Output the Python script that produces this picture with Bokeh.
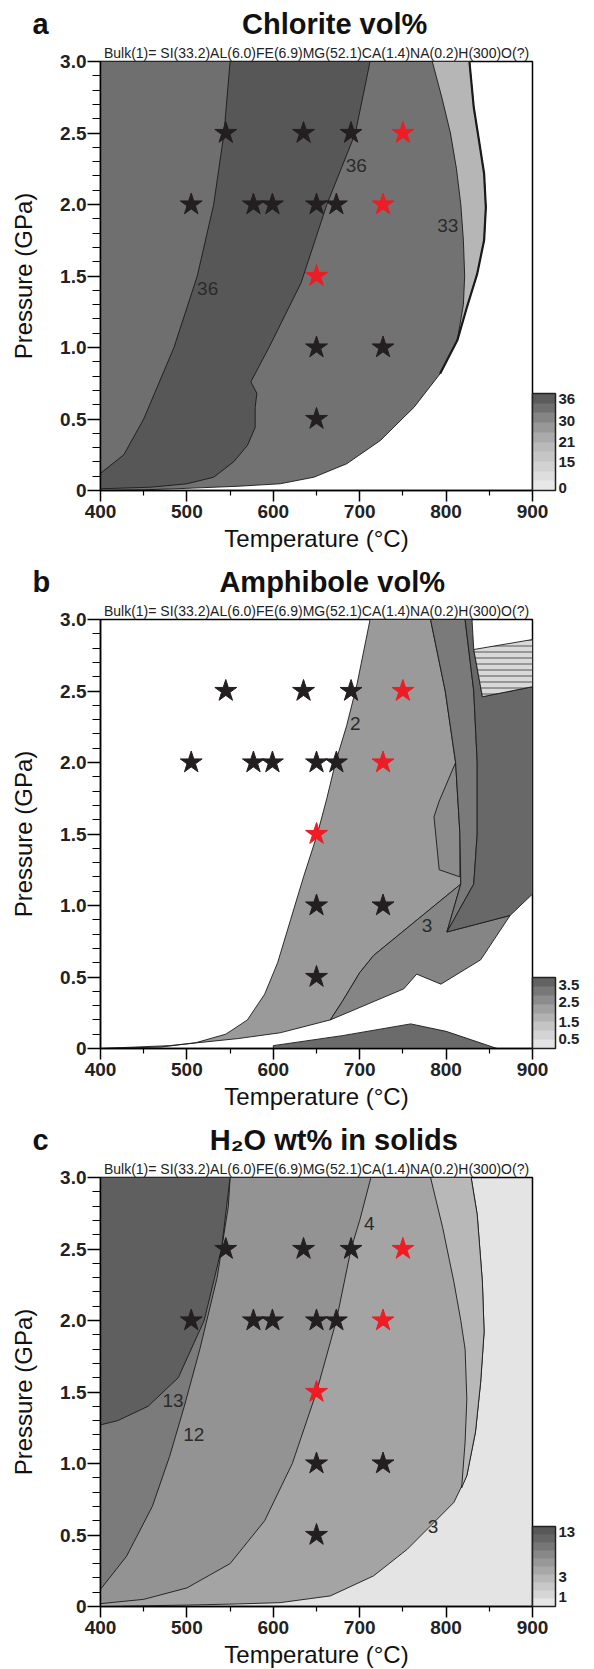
from bokeh.plotting import figure
from bokeh.layouts import column
from bokeh.models import Label, ColorBar, LinearColorMapper, FixedTicker, Range1d, Title
from bokeh.embed import file_html
from bokeh.resources import INLINE

FONT = "Liberation Sans"

# ---------------- data ----------------
BULK = "Bulk(1)= SI(33.2)AL(6.0)FE(6.9)MG(52.1)CA(1.4)NA(0.2)H(300)O(?)"
X_TICKS = [400, 500, 600, 700, 800, 900]
X_MINOR = [450, 550, 650, 750, 850]
Y_TICKS = [0, 0.5, 1.0, 1.5, 2.0, 2.5, 3.0]
Y_LABELS = ["0", "0.5", "1.0", "1.5", "2.0", "2.5", "3.0"]
Y_MINOR = [0.1, 0.2, 0.3, 0.4, 0.6, 0.7, 0.8, 0.9, 1.1, 1.2, 1.3, 1.4, 1.6, 1.7, 1.8, 1.9,
           2.1, 2.2, 2.3, 2.4, 2.6, 2.7, 2.8, 2.9]

STAR_BLACK_T = [545, 635, 690, 505, 577, 599, 650, 673, 650, 727, 650]
STAR_BLACK_P = [2.5, 2.5, 2.5, 2.0, 2.0, 2.0, 2.0, 2.0, 1.0, 1.0, 0.5]
STAR_RED_T = [750, 727, 650]
STAR_RED_P = [2.5, 2.0, 1.5]

# panel a : chlorite vol%
A_OUTER_T = [400, 450, 500, 560, 608, 647, 685, 724, 763, 793, 813, 824, 836, 844, 846, 844, 838, 832, 827]
A_OUTER_P = [0.0, 0.005, 0.015, 0.03, 0.047, 0.093, 0.187, 0.35, 0.583, 0.816, 1.05, 1.28, 1.515, 1.75, 1.98, 2.215, 2.45, 2.68, 3.0]
A_B_T = [712, 695, 662, 632, 595, 574, 581, 579, 579, 570, 554, 531, 500, 458, 400]
A_B_P = [3.0, 2.5, 2.0, 1.45, 1.0, 0.76, 0.68, 0.58, 0.44, 0.315, 0.2, 0.093, 0.047, 0.023, 0.012]
A_A_T = [550, 543, 531, 512, 485, 450, 427, 400]
A_A_P = [3.0, 2.5, 2.0, 1.5, 1.0, 0.5, 0.25, 0.12]
A_C_T = [784, 795, 805, 812, 817, 820, 821.5, 820, 813]
A_C_P = [3.0, 2.75, 2.5, 2.25, 2.0, 1.75, 1.5, 1.3, 1.05]
A_LABELS = [("36", 524, 1.41), ("36", 696, 2.27), ("33", 802, 1.85)]
A_CB_COLORS = ["#e8e8e8", "#dedede", "#d2d2d2", "#c6c6c6", "#bababa", "#aaaaaa", "#989898", "#858585", "#6f6f6f", "#5b5b5b"]
A_CB_TICKS = [0.03, 0.29, 0.5, 0.72, 0.94]
A_CB_LABELS = ["0", "15", "21", "30", "36"]

# panel b : amphibole vol%
B_LEFT_T = [400, 470, 510, 545, 570, 590, 605, 620, 635, 651, 662, 672, 685, 697, 712]
B_LEFT_P = [0.0, 0.01, 0.04, 0.1, 0.2, 0.38, 0.6, 0.9, 1.2, 1.5, 1.75, 2.0, 2.26, 2.55, 3.0]
B_2_T = [782, 799, 811, 816, 817]
B_2_P = [3.0, 2.5, 2.0, 1.5, 1.15]
B_L3_T = [817, 716, 700, 680, 666]
B_L3_P = [1.15, 0.65, 0.53, 0.33, 0.2]
B_LOWER_T = [400, 480, 560, 608, 666, 751, 766, 794, 840, 874, 900]
B_LOWER_P = [0.0, 0.02, 0.07, 0.11, 0.2, 0.417, 0.52, 0.45, 0.62, 0.93, 1.08]
B_DARK_T = [822, 830, 832, 842, 900, 900, 874, 801, 832, 836, 836, 832]
B_DARK_P = [3.0, 3.0, 2.79, 2.46, 2.53, 1.08, 0.93, 0.815, 1.15, 1.5, 2.0, 2.5]
B_HATCH_T = [832, 900, 900, 842]
B_HATCH_P = [2.79, 2.86, 2.53, 2.46]
B_MID_T = [811, 792, 786, 792, 816, 816]
B_MID_P = [2.0, 1.73, 1.62, 1.25, 1.2, 1.5]
B_WEDGE_T = [600, 680, 759, 800, 859]
B_WEDGE_P = [0.02, 0.09, 0.172, 0.12, 0.0]
B_LABELS = [("2", 695, 2.27), ("3", 778, 0.86)]
B_CB_COLORS = ["#e4e4e4", "#d4d4d4", "#c4c4c4", "#b2b2b2", "#a0a0a0", "#8c8c8c", "#787878", "#636363"]
B_CB_TICKS = [0.14, 0.38, 0.65, 0.89]
B_CB_LABELS = ["0.5", "1.5", "2.5", "3.5"]

# panel c : H2O wt% in solids
C_OUTER_T = [400, 500, 560, 608, 666, 716, 755, 786, 809, 824, 834, 840, 844, 842, 836, 829]
C_OUTER_P = [0.0, 0.01, 0.018, 0.027, 0.074, 0.214, 0.40, 0.588, 0.728, 0.915, 1.22, 1.57, 1.92, 2.27, 2.74, 3.0]
C_INNER_T = [782, 796, 809, 817, 822, 824, 822, 818]
C_INNER_P = [3.0, 2.65, 2.27, 2.0, 1.8, 1.45, 1.15, 0.83]
C_4_T = [713, 700, 690, 673, 650, 622, 590, 550, 500, 450, 400]
C_4_P = [3.0, 2.7, 2.5, 2.0, 1.5, 1.0, 0.6, 0.3, 0.13, 0.05, 0.02]
C_12_T = [548, 535, 515, 497, 480, 460, 430, 400]
C_12_P = [2.8, 2.3, 1.8, 1.4, 1.05, 0.7, 0.35, 0.12]
C_13_T = [550, 540, 520, 490, 455, 420, 400]
C_13_P = [3.0, 2.5, 2.0, 1.6, 1.4, 1.3, 1.27]
C_LABELS = [("13", 484, 1.44), ("12", 508, 1.2), ("4", 711, 2.68), ("3", 785, 0.56)]
C_CB_COLORS = ["#e6e6e6", "#d6d6d6", "#c8c8c8", "#b8b8b8", "#a8a8a8", "#989898", "#888888", "#777777", "#666666", "#585858"]
C_CB_TICKS = [0.12, 0.37, 0.93]
C_CB_LABELS = ["1", "3", "13"]

TMIN, TMAX, PMIN, PMAX = 400, 900, 0.0, 3.0
NBSP = "\u00a0"


def base_figure(h, letter, title, gap, bg="white"):
    p = figure(frame_width=432, frame_height=429, x_range=Range1d(TMIN, TMAX), y_range=Range1d(PMIN, PMAX),
               output_backend="svg", toolbar_location=None,
               min_border_left=100, min_border_right=62, min_border_top=61,
               min_border_bottom=h - 61 - 429,
               background_fill_color=bg, border_fill_color="white")
    p.grid.visible = False
    p.outline_line_color = "black"
    p.outline_line_width = 1.5
    p.xaxis.ticker = FixedTicker(ticks=X_TICKS, minor_ticks=X_MINOR)
    p.yaxis.ticker = FixedTicker(ticks=Y_TICKS, minor_ticks=Y_MINOR)
    p.yaxis.major_label_overrides = {t: l for t, l in zip(Y_TICKS, Y_LABELS)}
    for ax in (p.xaxis[0], p.yaxis[0]):
        ax.axis_line_width = 1.5
        ax.major_tick_line_width = 1.5
        ax.minor_tick_line_width = 1.2
        ax.major_tick_in = 0
        ax.minor_tick_in = 0
        ax.major_label_text_font = FONT
        ax.major_label_text_font_size = "19px"
        ax.major_label_text_font_style = "bold"
        ax.major_label_text_color = "#222222"
        ax.axis_label_text_font = FONT
        ax.axis_label_text_font_size = "24px"
        ax.axis_label_text_font_style = "normal"
        ax.axis_label_text_color = "#111111"
    p.xaxis.major_tick_out = 11
    p.xaxis.minor_tick_out = 5
    p.yaxis.major_tick_out = 13
    p.yaxis.minor_tick_out = 8
    p.xaxis.major_label_standoff = 3
    p.yaxis.major_label_standoff = 1
    p.xaxis.axis_label = "Temperature (°C)"
    p.yaxis.axis_label = "Pressure (GPa)"
    p.xaxis.axis_label_standoff = 4
    p.yaxis.axis_label_standoff = 20
    p.add_layout(Title(text=BULK, align="center", text_font=FONT, text_font_size="14px",
                       text_font_style="normal", text_color="#222222", standoff=2), "above")
    p.add_layout(Title(text=letter + NBSP * gap + title, align="left", offset=-68, text_font=FONT,
                       text_font_size="29px", text_font_style="bold", text_color="#111111",
                       standoff=4), "above")
    return p


def poly(p, T, P, color, lw=0.9, **kw):
    p.patch(T, P, fill_color=color, line_color="#1a1a1a", line_width=lw, **kw)


def stars(p):
    p.scatter(STAR_BLACK_T, STAR_BLACK_P, marker="star", size=23, fill_color="#231f20", line_color="#231f20")
    p.scatter(STAR_RED_T, STAR_RED_P, marker="star", size=23, fill_color="#ee1c24", line_color="#ee1c24")


def labels(p, items):
    for txt, t, pr in items:
        p.add_layout(Label(x=t, y=pr, text=txt, text_font=FONT, text_font_size="19px", text_color="#2b2b2b",
                           text_align="center", text_baseline="middle"))


def colorbar(p, colors, ticks, labs, h):
    mapper = LinearColorMapper(palette=colors, low=0, high=1)
    cb = ColorBar(color_mapper=mapper, ticker=FixedTicker(ticks=ticks),
                  major_label_overrides={t: l for t, l in zip(ticks, labs)},
                  width=23, height=h, location="bottom_left", padding=0, margin=15,
                  bar_line_color="#222222", bar_line_width=1.5, major_tick_line_color=None,
                  minor_tick_line_color=None, label_standoff=3,
                  major_label_text_font=FONT, major_label_text_font_size="15px",
                  major_label_text_font_style="bold", major_label_text_color="#222222",
                  background_fill_color=None, border_line_color=None)
    p.add_layout(cb, "right")


# ---------------- panel a ----------------
pa = base_figure(558, "a", "Chlorite vol%", 24)
poly(pa, A_OUTER_T + [TMIN], A_OUTER_P + [PMAX], "#727272")
poly(pa, A_B_T + [TMIN], A_B_P + [PMAX], "#575757")
poly(pa, A_A_T + [TMIN], A_A_P + [PMAX], "#6f6f6f")
poly(pa, A_C_T + A_OUTER_T[10:], A_C_P + A_OUTER_P[10:], "#b6b6b6")
pa.line(A_OUTER_T[9:], A_OUTER_P[9:], line_color="#1a1a1a", line_width=2.2)
stars(pa)
labels(pa, A_LABELS)
colorbar(pa, A_CB_COLORS, A_CB_TICKS, A_CB_LABELS, 97)

# ---------------- panel b ----------------
pb = base_figure(558, "b", "Amphibole vol%", 21)
light_T = B_LEFT_T + B_2_T + B_L3_T[1:] + B_LOWER_T[3::-1]
light_P = B_LEFT_P + B_2_P + B_L3_P[1:] + B_LOWER_P[3::-1]
poly(pb, light_T, light_P, "#9a9a9a")
poly(pb, B_MID_T, B_MID_P, "#8c8c8c")
lobe_T = B_L3_T + B_LOWER_T[5:10] + [B_DARK_T[7]]
lobe_P = B_L3_P + B_LOWER_P[5:10] + [B_DARK_P[7]]
poly(pb, lobe_T, lobe_P, "#858585")
band_T = B_2_T + B_DARK_T[7:] + B_DARK_T[:1]
band_P = B_2_P + B_DARK_P[7:] + B_DARK_P[:1]
poly(pb, band_T, band_P, "#7a7a7a")
poly(pb, B_DARK_T, B_DARK_P, "#686868")
poly(pb, B_HATCH_T, B_HATCH_P, "#d9d9d9", hatch_pattern="horizontal_line", hatch_color="#555555",
     hatch_scale=6, hatch_weight=1)
poly(pb, B_WEDGE_T + [B_WEDGE_T[0]], B_WEDGE_P + [0.0], "#6b6b6b")
stars(pb)
labels(pb, B_LABELS)
colorbar(pb, B_CB_COLORS, B_CB_TICKS, B_CB_LABELS, 71)

# ---------------- panel c ----------------
pc = base_figure(553, "c", "H₂O wt% in solids", 20, bg="#e4e4e4")
poly(pc, C_OUTER_T + [TMIN], C_OUTER_P + [PMAX], "#a4a4a4")
poly(pc, C_INNER_T + C_OUTER_T[9:], C_INNER_P + C_OUTER_P[9:], "#b8b8b8")
poly(pc, C_4_T + [TMIN], C_4_P + [PMAX], "#939393")
poly(pc, C_12_T + [TMIN, TMIN] + C_13_T[:1], C_12_P + [PMAX, PMAX] + C_13_P[:1], "#7b7b7b")
poly(pc, C_13_T + [TMIN], C_13_P + [PMAX], "#5f5f5f")
stars(pc)
labels(pc, C_LABELS)
colorbar(pc, C_CB_COLORS, C_CB_TICKS, C_CB_LABELS, 80)

layout = column(pa, pb, pc, spacing=0)
open("out.html", "w").write(file_html(layout, INLINE))
